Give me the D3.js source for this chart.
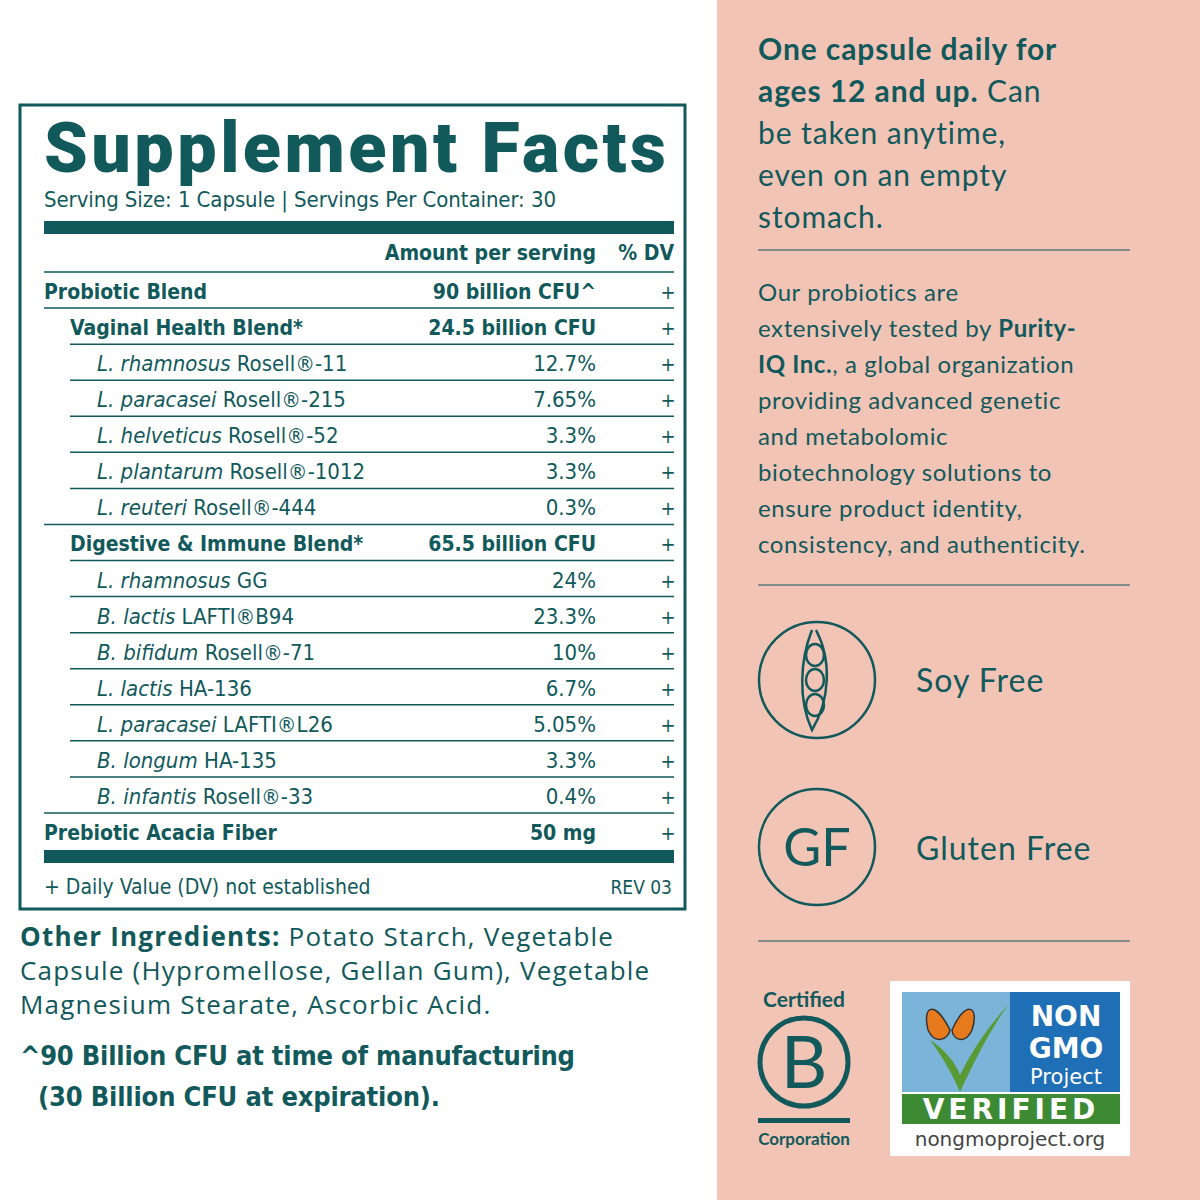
<!DOCTYPE html>
<html><head><meta charset="utf-8">
<script src="https://cdn.jsdelivr.net/npm/d3@7"></script>
<style>body{margin:0;background:#fff}svg{display:block}</style>
</head><body>
<script>
var teal = "#11595b", peach = "#f1c4b6";

// table rows: level, italic part, plain part, amount
var rowLevel  = [0,1,2,2,2,2,2,1,2,2,2,2,2,2,2,0];
var rowItalic = ["","","L. rhamnosus","L. paracasei","L. helveticus","L. plantarum","L. reuteri","","L. rhamnosus","B. lactis","B. bifidum","L. lactis","L. paracasei","B. longum","B. infantis",""];
var rowPlain  = ["Probiotic Blend","Vaginal Health Blend*"," Rosell®-11"," Rosell®-215"," Rosell®-52"," Rosell®-1012"," Rosell®-444","Digestive & Immune Blend*"," GG"," LAFTI®B94"," Rosell®-71"," HA-136"," LAFTI®L26"," HA-135"," Rosell®-33","Prebiotic Acacia Fiber"];
var rowAmount = ["90 billion CFU^","24.5 billion CFU","12.7%","7.65%","3.3%","3.3%","0.3%","65.5 billion CFU","24%","23.3%","10%","6.7%","5.05%","3.3%","0.4%","50 mg"];

var svg = d3.select("body").append("svg").attr("width",1200).attr("height",1200);
svg.append("rect").attr("width",1200).attr("height",1200).attr("fill","#fff");
svg.append("rect").attr("x",717).attr("width",483).attr("height",1200).attr("fill",peach);

var cond = "'DejaVu Sans Condensed','DejaVu Sans',sans-serif";
function txt(g,x,y,s,size,opt){
    opt = opt || {};
    return g.append("text").attr("x",x).attr("y",y).text(s)
        .attr("font-size",size).attr("fill",opt.fill||teal)
        .attr("font-family",opt.font||cond)
        .attr("font-weight",opt.weight||"normal")
        .attr("text-anchor",opt.anchor||"start");
}

// --- facts box
var box = svg.append("g");
box.append("rect").attr("x",20).attr("y",105).attr("width",665).attr("height",804)
    .attr("fill","none").attr("stroke",teal).attr("stroke-width",3);
txt(box,44,172,"Supplement Facts",70,{font:"Roboto, sans-serif",weight:900}).attr("textLength",622);
txt(box,44,207,"Serving Size: 1 Capsule | Servings Per Container: 30",22).attr("textLength",512);
box.append("rect").attr("x",44).attr("y",221).attr("width",630).attr("height",13).attr("fill",teal);
txt(box,596,260,"Amount per serving",21,{anchor:"end",weight:"bold"});
txt(box,674,260,"% DV",21,{anchor:"end",weight:"bold"});

var y = d3.scaleBand().domain(d3.range(rowAmount.length)).range([272,849]);
var indent = d3.scaleOrdinal().domain([0,1,2]).range([44,70,97]);
box.append("line").attr("x1",44).attr("x2",674).attr("y1",272).attr("y2",272).attr("stroke",teal).attr("stroke-width",1.5);

rowAmount.forEach(function(a,i){
    var lv = rowLevel[i], yy = y(i) + 27;
    var t = box.append("text").attr("x",indent(lv)).attr("y",yy).attr("font-size",22)
        .attr("font-family",cond).attr("fill",teal).attr("font-weight",lv<2?"bold":"normal");
    if(rowItalic[i]) t.append("tspan").attr("font-style","italic").text(rowItalic[i]);
    t.append("tspan").text(rowPlain[i]);
    if(lv<2) t.attr("font-size",21);
    txt(box,596,yy,a,lv<2?21:22,{anchor:"end",weight:lv<2?"bold":"normal"});
    txt(box,668,yy,"+",20,{anchor:"middle"});
    if(i < rowAmount.length-1){
        var nx = rowLevel[i+1]==2 ? 70 : 44;
        box.append("line").attr("x1",nx).attr("x2",674).attr("y1",y(i)+y.bandwidth()).attr("y2",y(i)+y.bandwidth())
            .attr("stroke",teal).attr("stroke-width",1.5);
    }
});
box.append("rect").attr("x",44).attr("y",850).attr("width",630).attr("height",13).attr("fill",teal);
txt(box,44,894,"+ Daily Value (DV) not established",21);
txt(box,672,894,"REV 03",19,{anchor:"end"});

// --- below box
var sans = "'Open Sans','DejaVu Sans',sans-serif";
var oi = svg.append("g");
var t1 = txt(oi,20,946,"",26,{font:sans}).attr("letter-spacing",1.2);
t1.append("tspan").attr("font-weight","bold").text("Other Ingredients:");
t1.append("tspan").text(" Potato Starch, Vegetable");
txt(oi,20,980,"Capsule  (Hypromellose, Gellan Gum), Vegetable",26,{font:sans}).attr("letter-spacing",1.2);
txt(oi,20,1014,"Magnesium Stearate, Ascorbic Acid.",26,{font:sans}).attr("letter-spacing",1.2);
txt(oi,20,1065,"^90 Billion CFU at time of manufacturing",27,{weight:"bold"}).attr("textLength",555);
txt(oi,38,1106," (30 Billion CFU at expiration).",27,{weight:"bold"}).attr("textLength",402);

// --- right panel
var rp = svg.append("g"), rf = "Lato, 'Open Sans', sans-serif";
txt(rp,758,60,"One capsule daily for",30,{font:rf,weight:"bold"}).attr("letter-spacing",0.9);
var b = txt(rp,758,102,"",30,{font:rf}).attr("letter-spacing",0.9);
b.append("tspan").attr("font-weight","bold").text("ages 12 and up.");
b.append("tspan").text(" Can");
["be taken anytime,","even on an empty","stomach."].forEach(function(s,i){ txt(rp,758,144+42*i,s,30,{font:rf}).attr("letter-spacing",0.9); });
[250,585,941].forEach(function(v){ rp.append("line").attr("x1",758).attr("x2",1130).attr("y1",v).attr("y2",v).attr("stroke",teal).attr("stroke-width",1.2); });

var para = [["Our probiotics are"],["extensively tested by ","Purity-"],["IQ Inc."," , a global organization"],["providing advanced genetic"],["and metabolomic"],["biotechnology solutions to"],["ensure product identity,"],["consistency, and authenticity."]];
para.forEach(function(p,i){
    var t = txt(rp,758,301+36*i,"",24,{font:rf}).attr("letter-spacing",0.6);
    if(i==1){ t.append("tspan").text(p[0]); t.append("tspan").attr("font-weight","bold").text(p[1]); }
    else if(i==2){ t.append("tspan").attr("font-weight","bold").text(p[0]); t.append("tspan").text(", a global organization"); }
    else t.text(p[0]);
});

// icons
[680,847].forEach(function(cy){
    rp.append("circle").attr("cx",817).attr("cy",cy).attr("r",58).attr("fill","none").attr("stroke",teal).attr("stroke-width",2.5);
});
var pod = rp.append("g").attr("fill","none").attr("stroke",teal).attr("stroke-width",2.5);
pod.append("path").attr("d","M812,630 C800,660 798,700 812,730 C830,700 832,660 816,630");
[655,680,705].forEach(function(cy){ pod.append("ellipse").attr("cx",815).attr("cy",cy).attr("rx",9).attr("ry",11); });
txt(rp,817,866,"GF",52,{font:rf,anchor:"middle"});
txt(rp,916,692,"Soy Free",32,{font:rf}).attr("letter-spacing",1);
txt(rp,916,860,"Gluten Free",32,{font:rf}).attr("letter-spacing",1);

// B corp
txt(rp,804,1007,"Certified",21,{font:rf,weight:"bold",anchor:"middle"});
rp.append("circle").attr("cx",804).attr("cy",1062).attr("r",44).attr("fill","none").attr("stroke",teal).attr("stroke-width",5);
txt(rp,804,1088,"B",72,{font:rf,anchor:"middle"});
rp.append("rect").attr("x",758).attr("y",1118).attr("width",92).attr("height",5).attr("fill",teal);
txt(rp,804,1145,"Corporation",17,{font:rf,weight:"bold",anchor:"middle"});

// non-GMO
var ng = rp.append("g"), df = "'DejaVu Sans',sans-serif";
ng.append("rect").attr("x",890).attr("y",981).attr("width",240).attr("height",175).attr("fill","#fff");
ng.append("rect").attr("x",902).attr("y",992).attr("width",218).attr("height",100).attr("fill","#1e6fb5");
ng.append("rect").attr("x",902).attr("y",992).attr("width",108).attr("height",100).attr("fill","#7bb4d9");
ng.append("path").attr("d","M930,1040 C945,1060 955,1080 960,1092 C975,1060 990,1030 1008,1005 C985,1030 970,1055 960,1075 C955,1062 945,1050 930,1040Z").attr("fill","#5a9a34");
ng.append("path").attr("d","M950,1030 C935,1000 922,1005 928,1030 C935,1045 948,1040 950,1030Z M952,1030 C965,1000 980,1005 972,1030 C965,1045 953,1040 952,1030Z").attr("fill","#e87a1e").attr("stroke","#333").attr("stroke-width",1.5);
txt(ng,1066,1026,"NON",28,{fill:"#fff",weight:"bold",font:df,anchor:"middle"});
txt(ng,1066,1058,"GMO",28,{fill:"#fff",weight:"bold",font:df,anchor:"middle"});
txt(ng,1066,1084,"Project",21,{fill:"#fff",font:df,anchor:"middle"});
ng.append("rect").attr("x",902).attr("y",1094).attr("width",218).attr("height",30).attr("fill","#3d8a35");
txt(ng,1011,1119,"VERIFIED",28,{fill:"#fff",weight:"bold",font:df,anchor:"middle"}).attr("letter-spacing",4);
txt(ng,1010,1146,"nongmoproject.org",20,{fill:"#444",font:df,anchor:"middle"});
</script>
</body></html>
